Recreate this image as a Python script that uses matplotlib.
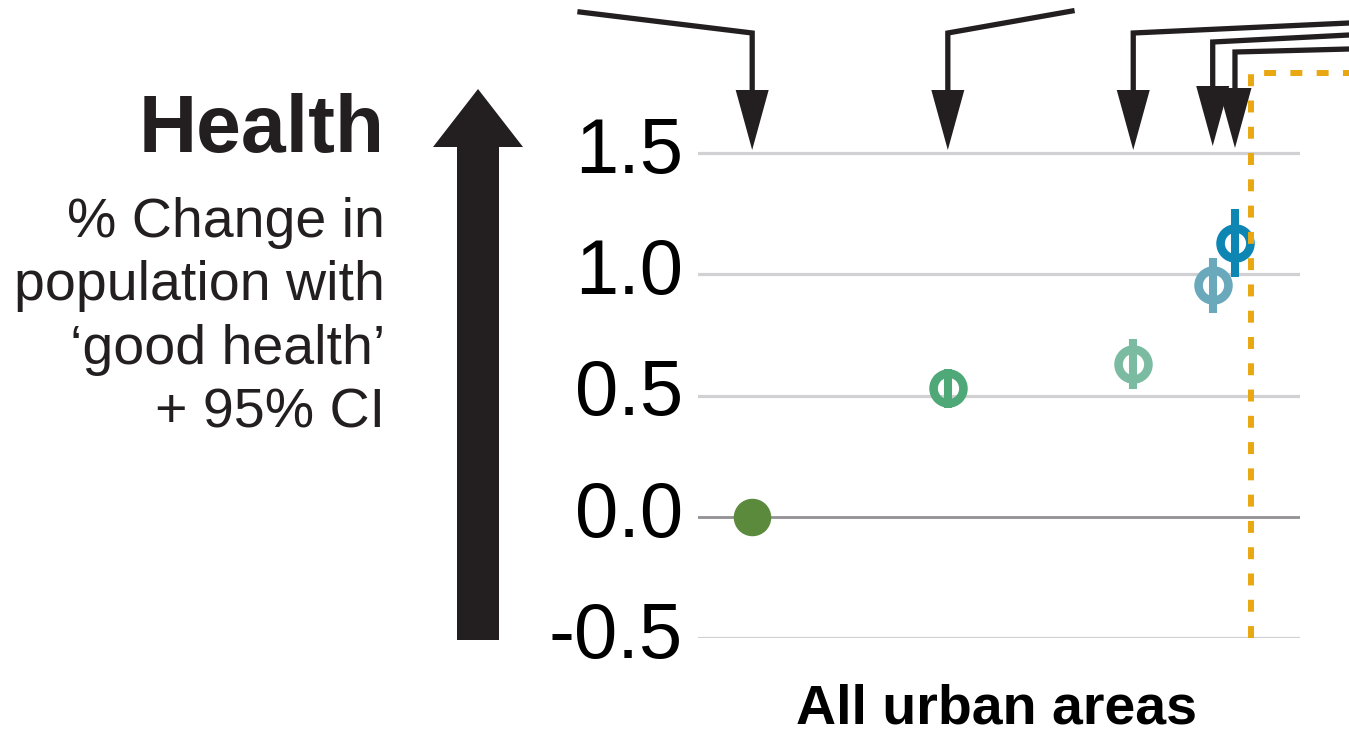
import matplotlib
matplotlib.use("Agg")
import matplotlib.pyplot as plt
from matplotlib.patches import Polygon
from matplotlib.lines import Line2D
from matplotlib.transforms import IdentityTransform, ScaledTranslation, blended_transform_factory

# ---- data -------------------------------------------------------------
scenario_pos = [9.0, 41.5, 72.3, 85.5, 89.2]          # position of each scenario on the x scale
health_change = [0.0, 0.53, 0.63, 0.955, 1.13]        # % change in population with good health
ci_half = [0.0, 0.08, 0.105, 0.113, 0.14]             # half-width of the 95% CI
has_ci = [False, True, True, True, True]
threshold_pos = 91.9                                  # dashed threshold marker
y_ticks = [-0.5, 0.0, 0.5, 1.0, 1.5]
y_tick_labels = ["-0.5", "0.0", "0.5", "1.0", "1.5"]

colors = ["#5C8A3D", "#4FA877", "#7BBBA1", "#69A9BB", "#0D86B4"]
DARK = "#231F20"
ORANGE = "#E9A812"

W, H = 1349, 734
fig = plt.figure(figsize=(W / 100, H / 100), dpi=100)
plt.rcParams["font.family"] = ["Liberation Sans", "DejaVu Sans"]


def fx(x):
    return x / W


def fy(y):
    return 1 - y / H


def disp(x, y):
    # pixel position measured from the top-left corner -> display coords
    return x, H - y


ax = fig.add_axes([fx(698), fy(638), fx(1300) - fx(698), 638 / H])
ax.set_xlim(0, 100)
ax.set_ylim(-0.5, -0.5 + 638 / 242.5)
ax.axis("off")

# grid lines
for t in y_ticks:
    ax.axhline(t, color="#939196" if t == 0 else "#D1D1D3",
               lw=2.0 if t == 0 else 2.3, zorder=1)

# tick labels
off = ScaledTranslation(-15 / 100, -20 / 100, fig.dpi_scale_trans)
ttrans = blended_transform_factory(ax.transAxes, ax.transData) + off
for t, lab in zip(y_ticks, y_tick_labels):
    ax.text(0, t, lab, transform=ttrans, ha="right", va="baseline",
            fontsize=56, color="black")

# threshold dashed line (vertical then running off to the right at the top)
x_thr = ax.transData.transform((threshold_pos, 0))[0]
thr_line = Line2D([x_thr, x_thr, W + 5], [H - 638, H - 73, H - 73],
                  transform=IdentityTransform(), color=ORANGE, lw=4.3,
                  linestyle=(0, (2.0, 2.4)), zorder=2)
fig.add_artist(thr_line)

# scenario points with confidence intervals
for x, y, e, ci, c in zip(scenario_pos, health_change, ci_half, has_ci, colors):
    if ci:
        ax.errorbar(x, y, yerr=e, fmt="none", ecolor=c, elinewidth=5.8,
                    capsize=0, zorder=4)
        ax.plot(x, y, "o", ms=21.5, mfc="none", mec=c, mew=6.2, zorder=5)
    else:
        ax.plot(x, y, "o", ms=26, color=c, zorder=5)

# connector arrows from above
arrow_from = [(580, 12), (1072, 11), (1349, 23), (1349, 35), (1349, 49)]
elbow_y = [33, 33, 33, 42, 52]
tip_y = [150, 150, 150, 146, 148]
for x, (sx, sy), ey, ty in zip(scenario_pos, arrow_from, elbow_y, tip_y):
    xp = ax.transData.transform((x, 0))[0]
    xs = [sx, xp, xp]
    ys = [H - sy, H - ey, H - (ty - 50)]
    fig.add_artist(Line2D(xs, ys, transform=IdentityTransform(), color=DARK,
                          lw=3.8, solid_joinstyle="miter", zorder=6))
    head = Polygon([disp(xp - 16.5, ty - 60), disp(xp + 16.5, ty - 60), disp(xp, ty)],
                   closed=True, transform=IdentityTransform(), color=DARK, lw=0,
                   zorder=6)
    fig.add_artist(head)

# big upward arrow on the left
big = Polygon([disp(457, 640), disp(499, 640), disp(499, 147), disp(523, 147),
               disp(478, 89), disp(433, 147), disp(457, 147)],
              closed=True, transform=IdentityTransform(), color=DARK, lw=0)
fig.add_artist(big)

# titles
fig.text(fx(385), fy(152), "Health", ha="right", va="baseline",
         fontsize=58, fontweight="bold", color=DARK)
sub_lines = ["% Change in", "population with", "\u2018good health\u2019", "+ 95% CI"]
for i, line in enumerate(sub_lines):
    fig.text(fx(385), fy(237 + 63.5 * i), line, ha="right", va="baseline",
             fontsize=40, color=DARK)

fig.text(fx(996), fy(724), "All urban areas", ha="center", va="baseline",
         fontsize=40, fontweight="bold", color="black")

fig.savefig("out.png", dpi=100)
